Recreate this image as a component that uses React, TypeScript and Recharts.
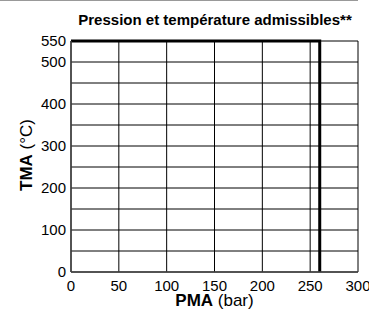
import React from 'react';
import {CartesianGrid, Line, LineChart, XAxis, YAxis} from 'recharts';

// limit curve: PMA (bar) vs TMA (°C)
const pma = [0, 260, 260];
const tma = [550, 550, 0];

const xTicks = [0, 50, 100, 150, 200, 250, 300];
const yTicks = [0, 100, 200, 300, 400, 500, 550];
const xGrid = [0, 50, 100, 150, 200, 250, 300];
const yGrid = [0, 50, 100, 150, 200, 250, 300, 350, 400, 450, 500, 550];

const data = pma.map((p, i) => ({pma: p, tma: tma[i]}));

const font = '"Liberation Sans", Arial, Helvetica, sans-serif';

const YLabel = () => (
    <text x={32} y={155} transform="rotate(-90 32 155)" textAnchor="middle" fontSize={17} fill="#000">
        <tspan fontWeight="bold">TMA</tspan>
        <tspan> (°C)</tspan>
    </text>
);

const XLabel = () => (
    <text x={214.5} y={306} textAnchor="middle" fontSize={17} fill="#000">
        <tspan fontWeight="bold">PMA</tspan>
        <tspan> (bar)</tspan>
    </text>
);

const App = () => {
    return (
        <div style={{position: 'absolute', left: 0, top: 0, width: 369, height: 310, fontFamily: font, background: '#fff'}}>
            <div style={{position: 'absolute', left: 0, top: 0, width: 358, height: 1, background: '#999'}} />
            <div style={{
                position: 'absolute', left: 0, width: 430, top: 12, textAlign: 'center',
                fontSize: 15, lineHeight: '15px', fontWeight: 'bold', color: '#000',
            }}>
                Pression et température admissibles**
            </div>
            <LineChart width={369} height={310} data={data} margin={{top: 41, right: 11, bottom: 0, left: 0}}>
                <CartesianGrid
                    stroke="#000"
                    strokeWidth={1}
                    horizontalValues={yGrid}
                    verticalValues={xGrid}
                />
                <XAxis
                    dataKey="pma"
                    type="number"
                    domain={[0, 300]}
                    ticks={xTicks}
                    height={38}
                    tickSize={0}
                    tickMargin={8}
                    tick={{fill: '#000', fontSize: 15}}
                    axisLine={{stroke: '#444', strokeWidth: 1.5}}
                    label={<XLabel />}
                    interval={0}
                />
                <YAxis
                    type="number"
                    domain={[0, 550]}
                    ticks={yTicks}
                    width={71}
                    tickSize={0}
                    tickMargin={5}
                    tick={{fill: '#000', fontSize: 15}}
                    axisLine={{stroke: '#444', strokeWidth: 1.5}}
                    label={<YLabel />}
                    interval={0}
                />
                <Line
                    dataKey="tma"
                    type="linear"
                    stroke="#000"
                    strokeWidth={3}
                    dot={false}
                    isAnimationActive={false}
                />
            </LineChart>
        </div>
    );
};

export default App;
